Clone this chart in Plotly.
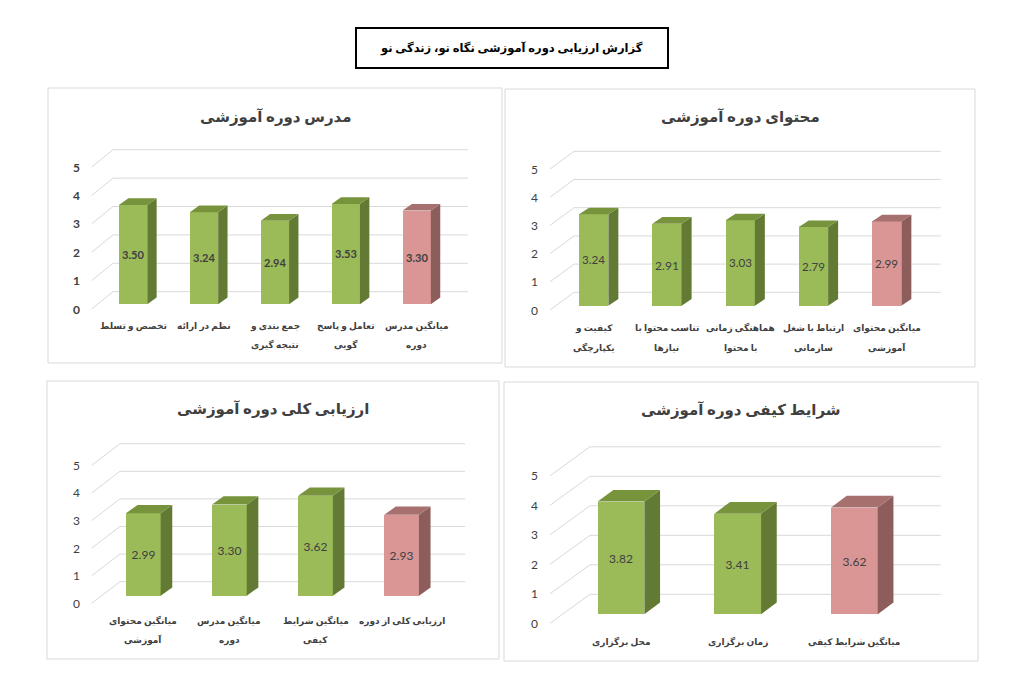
import plotly.graph_objects as go

W, H = 1014, 685
OFF = 8                      # page body margin
FW, FH = W - 2 * OFF, H - 2 * OFF

report_title = "گزارش ارزیابی دوره آموزشی نگاه نو، زندگی نو"

teacher_title = "مدرس دوره آموزشی"
teacher_labels = ["تخصص و تسلط", "نظم در ارائه", "جمع بندی و<br>نتیجه گیری",
                  "تعامل و پاسخ<br>گویی", "میانگین مدرس<br>دوره"]
teacher_values = [3.50, 3.24, 2.94, 3.53, 3.30]

content_title = "محتوای دوره آموزشی"
content_labels = ["کیفیت و<br>یکپارچگی", "تناسب محتوا با<br>نیازها", "هماهنگی زمانی<br>با محتوا",
                  "ارتباط با شغل<br>سازمانی", "میانگین محتوای<br>آموزشی"]
content_values = [3.24, 2.91, 3.03, 2.79, 2.99]

overall_title = "ارزیابی کلی دوره آموزشی"
overall_labels = ["میانگین محتوای<br>آموزشی", "میانگین مدرس<br>دوره", "میانگین شرایط<br>کیفی",
                  "ارزیابی کلی از دوره"]
overall_values = [2.99, 3.30, 3.62, 2.93]

quality_title = "شرایط کیفی دوره آموزشی"
quality_labels = ["محل برگزاری", "زمان برگزاری", "میانگین شرایط کیفی"]
quality_values = [3.82, 3.41, 3.62]

y_ticks = [0, 1, 2, 3, 4, 5]

FONT = "Lato, 'DejaVu Sans'"
GREEN = ("#9bbb59", "#77933c", "#627a33")   # front, top, side
RED = ("#d99694", "#a6706e", "#8c5d5b")
GRID = "#d9d9d9"
TEXT = "#404040"


def px_x(px):
    return (px - OFF) / FW


def px_y(py):
    return 1 - (py - OFF) / FH


# pixel geometry of each panel (box = left, top, right, bottom)
panels = [
    dict(title=teacher_title, labels=teacher_labels, values=teacher_values, bold=True,
         box=(48, 88, 502, 363), x0=133.1, sx=70.9, y0=304.3, sy=28.4,
         bw=28.3, dx=9.4, dy=6.7, back0=291.7, front0=309, frontx=91.7, backx=113,
         right=468, title_y=117, cat_y=326, line_gap=19),
    dict(title=content_title, labels=content_labels, values=content_values, bold=False,
         box=(505, 89, 975, 367), x0=593.7, sx=73.25, y0=305.7, sy=28.2,
         bw=29.3, dx=10, dy=6.6, back0=292.3, front0=310, frontx=550, backx=574,
         right=940.7, title_y=117, cat_y=328, line_gap=20),
    dict(title=overall_title, labels=overall_labels, values=overall_values, bold=False,
         box=(47, 381, 499, 659), x0=143.3, sx=86.1, y0=595.7, sy=27.6,
         bw=34.7, dx=11.6, dy=8.3, back0=581.7, front0=603.3, frontx=91.7, backx=120,
         right=465, title_y=408, cat_y=620.5, line_gap=19),
    dict(title=quality_title, labels=quality_labels, values=quality_values, bold=False,
         box=(504, 382, 978, 661), x0=621, sx=116.7, y0=614.3, sy=29.5,
         bw=46.7, dx=15.7, dy=11.7, back0=594.3, front0=623.3, frontx=550, backx=590,
         right=940.7, title_y=409, cat_y=641.5, line_gap=19),
]

fig = go.Figure()
shapes = []
annotations = []

for n, p in enumerate(panels, start=1):
    sfx = "" if n == 1 else str(n)
    xa, ya = "x" + sfx, "y" + sfx
    L, T, R, B = p["box"]
    sx, sy = p["sx"], p["sy"]
    fx = lambda px: (px - p["x0"]) / sx
    fy = lambda py: (p["y0"] - py) / sy

    fig.update_layout({
        "xaxis" + sfx: dict(domain=[px_x(L), px_x(R)], range=[fx(L), fx(R)],
                            visible=False, fixedrange=True, anchor=ya),
        "yaxis" + sfx: dict(domain=[px_y(B), px_y(T)], range=[fy(B), fy(T)],
                            visible=False, fixedrange=True, anchor=xa),
    })

    # floor/back-wall gridlines
    gb, gf = fy(p["back0"]), fy(p["front0"])
    xf, xb, xr = fx(p["frontx"]), fx(p["backx"]), fx(p["right"])
    for k in y_ticks:
        shapes.append(dict(type="path", xref=xa, yref=ya, layer="below",
                           path=f"M {xf},{k + gf} L {xb},{k + gb} L {xr},{k + gb}",
                           line=dict(color=GRID, width=1)))
        annotations.append(dict(xref=xa, yref=ya, x=xf, y=k + gf,
                                text=f"<b>{k}</b>" if p["bold"] else str(k),
                                showarrow=False, xanchor="right", xshift=-10,
                                font=dict(family=FONT, size=12, color=TEXT)))

    vals = p["values"]
    idx = list(range(len(vals)))
    cols = [GREEN] * (len(vals) - 1) + [RED]
    w = p["bw"] / sx
    ddx, ddy = p["dx"] / sx, p["dy"] / sy

    fig.add_trace(go.Bar(
        x=idx, y=vals, width=w, xaxis=xa, yaxis=ya,
        marker=dict(color=[c[0] for c in cols], line=dict(width=0)),
        texttemplate="<b>%{y:.2f}</b>" if p["bold"] else "%{y:.2f}",
        textposition="inside", insidetextanchor="middle", textangle=0,
        insidetextfont=dict(family=FONT, size=12, color=TEXT),
        hoverinfo="skip", showlegend=False,
    ))

    for i, v in enumerate(vals):
        xl, xrr = i - w / 2, i + w / 2
        fig.add_trace(go.Scatter(
            x=[xrr, xrr + ddx, xrr + ddx, xrr, xrr], y=[0, ddy, v + ddy, v, 0],
            xaxis=xa, yaxis=ya, mode="none", fill="toself", fillcolor=cols[i][2],
            hoverinfo="skip", showlegend=False))
        fig.add_trace(go.Scatter(
            x=[xl, xl + ddx, xrr + ddx, xrr, xl], y=[v, v + ddy, v + ddy, v, v],
            xaxis=xa, yaxis=ya, mode="none", fill="toself", fillcolor=cols[i][1],
            hoverinfo="skip", showlegend=False))

    # category labels
    for i, lab in enumerate(p["labels"]):
        for j, line in enumerate(lab.split("<br>")):
            annotations.append(dict(xref=xa, yref="paper", x=i,
                                    y=px_y(p["cat_y"] + j * p["line_gap"]),
                                    text=f"<b>{line}</b>", showarrow=False,
                                    xanchor="center", yanchor="middle",
                                    font=dict(family=FONT, size=9, color=TEXT)))

    annotations.append(dict(xref="paper", yref="paper", x=px_x((L + R) / 2), y=px_y(p["title_y"]),
                            text=f"<b>{p['title']}</b>", showarrow=False,
                            xanchor="center", yanchor="middle",
                            font=dict(family=FONT, size=15, color=TEXT)))
    shapes.append(dict(type="rect", xref="paper", yref="paper", x0=px_x(L), x1=px_x(R),
                       y0=px_y(B), y1=px_y(T), line=dict(color=GRID, width=1)))

# report title box
shapes.append(dict(type="rect", xref="paper", yref="paper", x0=px_x(356), x1=px_x(668),
                   y0=px_y(68), y1=px_y(28), line=dict(color="black", width=2)))
annotations.append(dict(xref="paper", yref="paper", x=px_x(512), y=px_y(48),
                        text=f"<b>{report_title}</b>", showarrow=False,
                        xanchor="center", yanchor="middle",
                        font=dict(family=FONT, size=11.5, color="black")))

fig.update_layout(width=FW, height=FH, margin=dict(l=0, r=0, t=0, b=0),
                  paper_bgcolor="white", plot_bgcolor="rgba(0,0,0,0)",
                  shapes=shapes, annotations=annotations, bargap=0)

fig.write_html("out.html")
